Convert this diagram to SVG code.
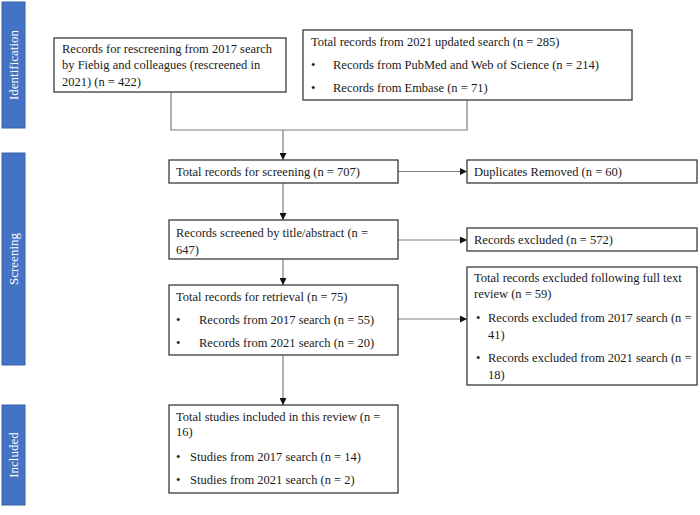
<svg xmlns="http://www.w3.org/2000/svg" width="700" height="515" viewBox="0 0 700 515">
<defs>
<style>
.bar{fill:#4472C4;stroke:#3A62A8;stroke-width:1}
.lbl{font-family:"Liberation Serif","Times New Roman",serif;font-size:13px;fill:#ffffff}
.box{fill:#ffffff;stroke:#3a3a3a;stroke-width:1.3}
.t{font-family:"Liberation Serif","Times New Roman",serif;font-size:12.5px;fill:#1a1a1a}
.ln{fill:none;stroke:#7f7f7f;stroke-width:1.2}
</style>
<marker id="ah" viewBox="0 0 10 10" refX="10" refY="5" markerWidth="7" markerHeight="7" markerUnits="userSpaceOnUse" orient="auto">
<path d="M0,0 L10,5 L0,10 z" fill="#111"/>
</marker>
</defs>
<rect width="700" height="515" fill="#ffffff"/>

<g id="phase-identification">
<rect class="bar" x="2" y="2" width="23" height="126"/>
<text class="lbl" transform="translate(18,65) rotate(-90)" text-anchor="middle">Identification</text>
</g>
<g id="phase-screening">
<rect class="bar" x="2" y="153" width="23" height="212"/>
<text class="lbl" transform="translate(18,259) rotate(-90)" text-anchor="middle">Screening</text>
</g>
<g id="phase-included">
<rect class="bar" x="2" y="405" width="23" height="100"/>
<text class="lbl" transform="translate(18,455) rotate(-90)" text-anchor="middle">Included</text>
</g>

<g id="connectors">
<polyline class="ln" points="171,92 171,130 467,130 467,100"/>
<line class="ln" x1="283" y1="130" x2="283" y2="160" marker-end="url(#ah)"/>
<line class="ln" x1="398" y1="171.5" x2="467" y2="171.5" marker-end="url(#ah)"/>
<line class="ln" x1="283" y1="183" x2="283" y2="220" marker-end="url(#ah)"/>
<line class="ln" x1="398" y1="240" x2="467" y2="240" marker-end="url(#ah)"/>
<line class="ln" x1="283" y1="259" x2="283" y2="285" marker-end="url(#ah)"/>
<line class="ln" x1="398" y1="319" x2="467" y2="319" marker-end="url(#ah)"/>
<line class="ln" x1="283" y1="355" x2="283" y2="405" marker-end="url(#ah)"/>
</g>

<g id="node-rescreening">
<rect class="box" x="54" y="38" width="232" height="54"/>
<text class="t" x="62" y="53">Records for rescreening from 2017 search</text>
<text class="t" x="62" y="69">by Fiebig and colleagues (rescreened in</text>
<text class="t" x="62" y="86">2021) (n = 422)</text>
</g>

<g id="node-updated-search">
<rect class="box" x="303" y="30" width="329" height="70"/>
<text class="t" x="311" y="46">Total records from 2021 updated search (n = 285)</text>
<text class="t" x="311" y="69">•</text>
<text class="t" x="333" y="69">Records from PubMed and Web of Science (n = 214)</text>
<text class="t" x="311" y="92">•</text>
<text class="t" x="333" y="92">Records from Embase (n = 71)</text>
</g>

<g id="node-screening-total">
<rect class="box" x="169" y="160" width="229" height="23"/>
<text class="t" x="176" y="176">Total records for screening (n = 707)</text>
</g>

<g id="node-duplicates">
<rect class="box" x="467" y="160" width="230" height="23"/>
<text class="t" x="474" y="176">Duplicates Removed (n = 60)</text>
</g>

<g id="node-title-abstract">
<rect class="box" x="169" y="220" width="229" height="39"/>
<text class="t" x="176" y="237">Records screened by title/abstract (n =</text>
<text class="t" x="176" y="254">647)</text>
</g>

<g id="node-excluded">
<rect class="box" x="467" y="228" width="230" height="23"/>
<text class="t" x="474" y="244">Records excluded (n = 572)</text>
</g>

<g id="node-retrieval">
<rect class="box" x="169" y="285" width="229" height="70"/>
<text class="t" x="176" y="301">Total records for retrieval (n = 75)</text>
<text class="t" x="176" y="324">•</text>
<text class="t" x="199" y="324">Records from 2017 search (n = 55)</text>
<text class="t" x="176" y="347">•</text>
<text class="t" x="199" y="347">Records from 2021 search (n = 20)</text>
</g>

<g id="node-fulltext-excluded">
<rect class="box" x="467" y="267" width="230" height="118"/>
<text class="t" x="474" y="282">Total records excluded following full text</text>
<text class="t" x="474" y="298">review (n = 59)</text>
<text class="t" x="476" y="322">•</text>
<text class="t" x="488" y="322">Records excluded from 2017 search (n =</text>
<text class="t" x="488" y="339">41)</text>
<text class="t" x="476" y="362">•</text>
<text class="t" x="488" y="362">Records excluded from 2021 search (n =</text>
<text class="t" x="488" y="379">18)</text>
</g>

<g id="node-included">
<rect class="box" x="169" y="405" width="229" height="88"/>
<text class="t" x="176" y="421">Total studies included in this review (n =</text>
<text class="t" x="176" y="436">16)</text>
<text class="t" x="176" y="461">•</text>
<text class="t" x="190" y="461">Studies from 2017 search (n = 14)</text>
<text class="t" x="176" y="484">•</text>
<text class="t" x="190" y="484">Studies from 2021 search (n = 2)</text>
</g>
</svg>
